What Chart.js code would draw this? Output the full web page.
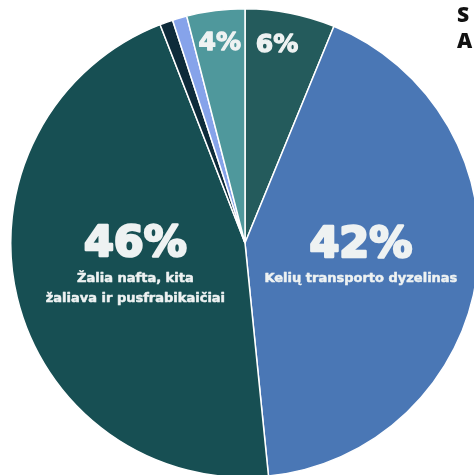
<!DOCTYPE html>
<html>
<head>
<meta charset="utf-8">
<script src="https://cdn.jsdelivr.net/npm/chart.js@4.4.1/dist/chart.umd.min.js"></script>
<style>
  html, body { margin: 0; padding: 0; background: #ffffff; overflow: hidden; width: 474px; height: 475px; }
  #wrap { position: absolute; left: 10px; top: 8px; width: 470px; height: 470px; }
  .side { position: absolute; left: 457px; font-family: "Open Sans", sans-serif; font-weight: 800; font-size: 21px; color: #111; line-height: 26px; white-space: nowrap; }
</style>
</head>
<body>
<div id="wrap"><canvas id="pie"></canvas></div>
<div class="side" style="top:1px;">S</div>
<div class="side" style="top:27px;">A</div>
<script>
const categories = ['Kita (6%)', 'Kelių transporto dyzelinas', 'Žalia nafta, kita žaliava ir pusfrabikaičiai', 'Kita (1%)', 'Kita (1%) ', 'Kita (4%)'];
const values = [6.2, 42.2, 45.7, 0.9, 1.0, 4.0];
const pctLabels = ['6%', '42%', '46%', '', '', '4%'];
const subLabels = [[], ['Kelių transporto dyzelinas'], ['Žalia nafta, kita', 'žaliava ir pusfrabikaičiai'], [], [], []];
const colors = ['#245b5c', '#4a77b5', '#174f53', '#0e2b3a', '#86a3ea', '#4f989c'];

// where each label sits along the slice's middle, as share of radius
const labelRadius = [0.86, 0.5, 0.49, 0, 0, 0.86];
const labelShiftX = [-7, 0, 2, 0, 0, 0];

function heavyText(ctx, text, x, y, weight) {
  ctx.lineWidth = weight;
  ctx.strokeText(text, x, y);
  ctx.fillText(text, x, y);
}

const sliceLabels = {
  id: 'sliceLabels',
  afterDatasetsDraw(chart) {
    const ctx = chart.ctx;
    const arcs = chart.getDatasetMeta(0).data;
    ctx.save();
    ctx.fillStyle = '#eef2f2';
    ctx.strokeStyle = '#eef2f2';
    ctx.lineJoin = 'round';
    ctx.textAlign = 'center';
    ctx.textBaseline = 'middle';
    arcs.forEach((arc, i) => {
      if (!pctLabels[i]) return;
      const mid = (arc.startAngle + arc.endAngle) / 2;
      const r = arc.outerRadius * labelRadius[i];
      const x = arc.x + Math.cos(mid) * r + labelShiftX[i];
      const y = arc.y + Math.sin(mid) * r;
      const subs = subLabels[i];
      if (subs.length === 0) {
        ctx.font = 'bold 25px "DejaVu Sans"';
        heavyText(ctx, pctLabels[i], x, y, 1.3);
        return;
      }
      const y0 = y - 14 - 10.5 * (subs.length - 1);
      ctx.font = 'bold 43px "DejaVu Sans"';
      heavyText(ctx, pctLabels[i], x, y0, 2.6);
      ctx.font = 'bold 13px "DejaVu Sans"';
      subs.forEach((s, k) => heavyText(ctx, s, x, y0 + 33 + 20 * k, 0.5));
    });
    ctx.restore();
  }
};

new Chart(document.getElementById('pie'), {
  type: 'pie',
  data: {
    labels: categories,
    datasets: [{
      data: values,
      backgroundColor: colors,
      borderColor: '#ffffff',
      borderWidth: 1.5
    }]
  },
  options: {
    responsive: true,
    maintainAspectRatio: false,
    animation: false,
    plugins: {
      legend: { display: false },
      tooltip: { enabled: false }
    }
  },
  plugins: [sliceLabels]
});
</script>
</body>
</html>
